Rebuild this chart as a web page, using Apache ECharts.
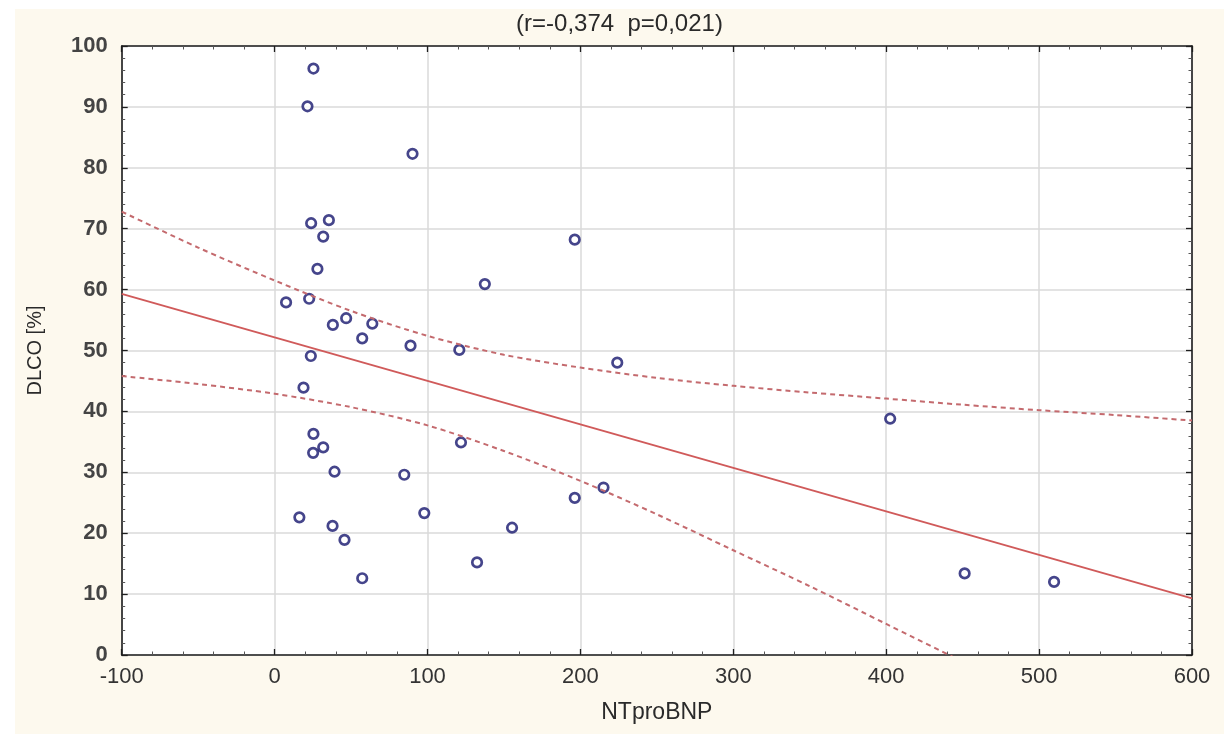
<!DOCTYPE html>
<html>
<head>
<meta charset="utf-8">
<script src="https://cdn.jsdelivr.net/npm/echarts@6/dist/echarts.min.js"></script>
<style>
  html, body { margin: 0; padding: 0; background: #ffffff; width: 1224px; height: 734px; overflow: hidden; }
  #chart { position: absolute; left: 15px; top: 9px; width: 1209px; height: 725px; }
</style>
</head>
<body>
<div id="chart"></div>
<script>
// ---- data ----
const titleText = '(r=-0,374  p=0,021)';
const xName = 'NTproBNP';
const yName = 'DLCO [%]';

const ntprobnp = [25.4, 21.5, 90.2, 23.9, 35.5, 31.8, 28.0, 196.3, 137.5, 7.5,
                  22.6, 46.8, 63.9, 38.1, 57.3, 88.9, 120.8, 224.1, 23.7, 18.9,
                  402.6, 25.4, 31.8, 25.2, 121.9, 39.2, 84.8, 196.3, 215.1, 16.2,
                  37.9, 97.9, 45.7, 155.3, 57.3, 132.4, 451.3, 509.8];
const dlco = [96.3, 90.1, 82.3, 70.9, 71.4, 68.7, 63.4, 68.2, 60.9, 57.9,
              58.5, 55.3, 54.4, 54.2, 52.0, 50.8, 50.1, 48.0, 49.1, 43.9,
              38.8, 36.3, 34.1, 33.2, 34.9, 30.1, 29.6, 25.8, 27.5, 22.6,
              21.2, 23.3, 18.9, 20.9, 12.6, 15.2, 13.4, 12.0];

const fitX = [-100, 600];
const fitY = [59.3, 9.3];

const bandX = [-100, -50, 0, 50, 100, 150, 200, 250, 300, 350, 400, 450, 500, 550, 600];
const bandUpper = [72.8, 66.9, 61.5, 56.5, 52.4, 49.3, 47.2, 45.5, 44.2, 43.1, 42.1, 41.1, 40.2, 39.4, 38.5];
const bandLower = [45.8, 44.5, 42.9, 40.7, 37.7, 33.5, 28.6, 23.1, 17.2, 11.3, 5.1, -1.1, -7.4, -13.6, -19.9];

const xTicks = { min: -100, max: 600, interval: 100 };
const yTicks = { min: 0, max: 100, interval: 10 };

// ---- build ----
const pts = ntprobnp.map((x, i) => [x, dlco[i]]);
const fitLine = fitX.map((x, i) => [x, fitY[i]]);
const upLine = bandX.map((x, i) => [x, bandUpper[i]]);
const loLine = bandX.map((x, i) => [x, bandLower[i]]);

const frame = '#1e1e1e';
const font = "'Liberation Sans', Arial, sans-serif";

function axisBase(extra) {
  return Object.assign({
    type: 'value',
    axisLine: { show: true, onZero: false, lineStyle: { color: frame, width: 1.6 } },
    axisTick: { show: true, inside: true, length: 6, lineStyle: { color: frame, width: 1.3 } },
    minorTick: { show: true, splitNumber: 5, length: 3.5, lineStyle: { color: '#555', width: 1 } },
    minorSplitLine: { show: false }
  }, extra);
}

const chart = echarts.init(document.getElementById('chart'), null, { renderer: 'canvas' });
chart.setOption({
  animation: false,
  backgroundColor: '#fdf9ee',
  title: {
    text: titleText,
    left: 'center',
    top: -2,
    textStyle: { fontFamily: font, fontSize: 24, fontWeight: 'normal', color: '#2a2a2a' }
  },
  grid: { left: 106.7, right: 32, top: 37, bottom: 79, show: true, backgroundColor: '#ffffff', borderWidth: 0 },
  xAxis: [
    axisBase({
      min: xTicks.min, max: xTicks.max, interval: xTicks.interval,
      position: 'bottom',
      name: xName, nameLocation: 'middle', nameGap: 46,
      nameTextStyle: { fontFamily: font, fontSize: 23, color: '#2a2a2a' },
      axisLabel: { show: true, margin: 11, fontFamily: font, fontSize: 22, color: '#333' },
      splitLine: { show: true, lineStyle: { color: '#dadada', width: 1.5 } }
    }),
    axisBase({
      min: xTicks.min, max: xTicks.max, interval: xTicks.interval,
      position: 'top',
      axisLabel: { show: false },
      splitLine: { show: false }
    })
  ],
  yAxis: [
    axisBase({
      min: yTicks.min, max: yTicks.max, interval: yTicks.interval,
      position: 'left',
      name: yName, nameLocation: 'middle', nameGap: 76, nameRotate: 90,
      nameTextStyle: { fontFamily: font, fontSize: 20, color: '#2a2a2a' },
      axisLabel: { show: true, margin: 14, fontFamily: font, fontSize: 22, fontWeight: 'bold', color: '#444' },
      splitLine: { show: true, lineStyle: { color: '#dadada', width: 1.5 } }
    }),
    axisBase({
      min: yTicks.min, max: yTicks.max, interval: yTicks.interval,
      position: 'right',
      axisLabel: { show: false },
      splitLine: { show: false }
    })
  ],
  series: [
    {
      type: 'line', data: upLine, xAxisIndex: 0, yAxisIndex: 0,
      showSymbol: false, smooth: 0.3, clip: true, silent: true,
      lineStyle: { color: '#c46a6e', width: 2, type: [5, 4] }
    },
    {
      type: 'line', data: loLine, xAxisIndex: 0, yAxisIndex: 0,
      showSymbol: false, smooth: 0.3, clip: true, silent: true,
      lineStyle: { color: '#c46a6e', width: 2, type: [5, 4] }
    },
    {
      type: 'line', data: fitLine, xAxisIndex: 0, yAxisIndex: 0,
      showSymbol: false, clip: true, silent: true,
      lineStyle: { color: '#d05a5a', width: 2 }
    },
    {
      type: 'scatter', data: pts, xAxisIndex: 0, yAxisIndex: 0,
      symbol: 'circle', symbolSize: 9.5,
      itemStyle: { color: '#ffffff', borderColor: '#16166e', borderWidth: 2.7 }
    }
  ]
});
</script>
</body>
</html>
